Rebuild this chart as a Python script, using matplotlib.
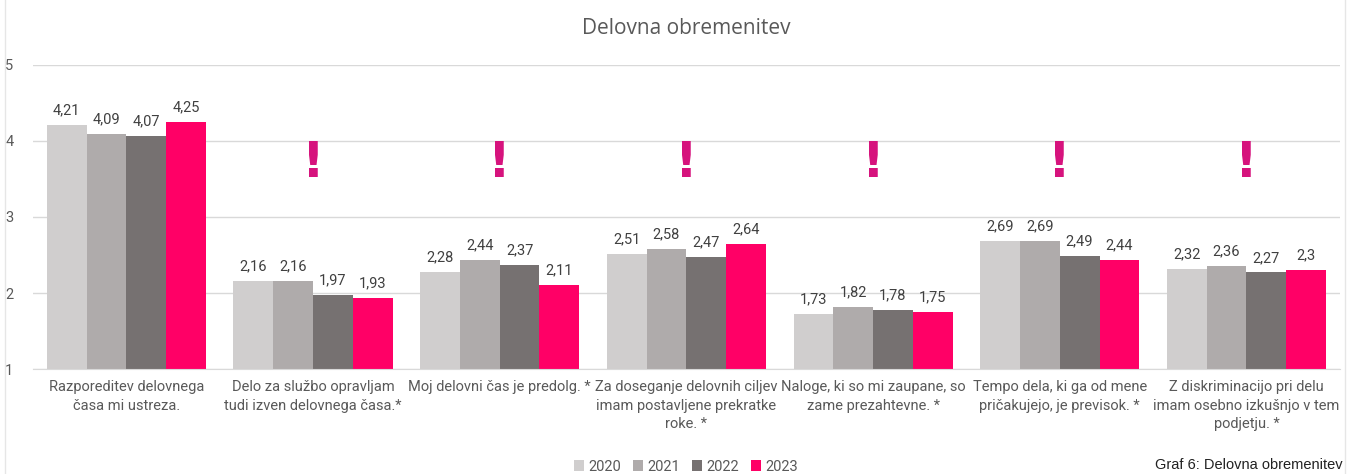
import numpy as np
import matplotlib
import matplotlib.pyplot as plt
from matplotlib.lines import Line2D
matplotlib.use('Agg')

categories = [
    "Razporeditev delovnega\nčasa mi ustreza.",
    "Delo za službo opravljam\ntudi izven delovnega časa.*",
    "Moj delovni čas je predolg. *",
    "Za doseganje delovnih ciljev\nimam postavljene prekratke\nroke. *",
    "Naloge, ki so mi zaupane, so\nzame prezahtevne. *",
    "Tempo dela, ki ga od mene\npričakujejo, je previsok. *",
    "Z diskriminacijo pri delu\nimam osebno izkušnjo v tem\npodjetju. *",
]
years = ["2020", "2021", "2022", "2023"]
v2020 = [4.21, 2.16, 2.28, 2.51, 1.73, 2.69, 2.32]
v2021 = [4.09, 2.16, 2.44, 2.58, 1.82, 2.69, 2.36]
v2022 = [4.07, 1.97, 2.37, 2.47, 1.78, 2.49, 2.27]
v2023 = [4.25, 1.93, 2.11, 2.64, 1.75, 2.44, 2.3]
flagged = [1, 2, 3, 4, 5, 6]  # categories with "!"

colors = ["#D0CECE", "#AFABAB", "#767171", "#FF0066"]
txt = "#595959"


def fmt(v):
    return ("%g" % v).replace(".", ",")


def main():
    plt.rcParams['font.family'] = ['Roboto', 'DejaVu Sans']
    fig = plt.figure(figsize=(13.57, 4.74), dpi=100)
    ax = fig.add_axes([0.0243, 0.2215, 0.963, 0.6414])

    series = [v2020, v2021, v2022, v2023]
    x = np.arange(len(categories))
    w = 0.213
    for i, vals in enumerate(series):
        pos = x + (i - 1.5) * w
        ax.bar(pos, vals, width=w, bottom=0, color=colors[i], label=years[i],
               zorder=2)
        for p, v in zip(pos, vals):
            ax.text(p, v + 0.1, fmt(v), ha="center", va="bottom",
                    fontsize=10.5, color="#404040")

    for k in flagged:
        ax.text(x[k], 3.71, "!", ha="center", va="center", fontsize=36,
                fontweight="bold", color="#D6137D", family="DejaVu Sans")

    ax.set_ylim(1, 5)
    ax.set_xlim(-0.5, len(categories) - 0.5)
    ax.set_yticks([1, 2, 3, 4, 5])
    ax.tick_params(axis="y", length=0, labelsize=10.5, labelcolor=txt, pad=14)
    ax.tick_params(axis="x", length=0, pad=8)
    ax.set_xticks(x)
    ax.set_xticklabels(categories, fontsize=10.5, color=txt, linespacing=1.4)
    ax.grid(axis="y", color="#D9D9D9", linewidth=1, zorder=0)
    for s in ["top", "right", "left"]:
        ax.spines[s].set_visible(False)
    ax.spines["bottom"].set_color("#D9D9D9")

    ax.set_title("Delovna obremenitev", fontsize=15, color=txt, pad=22,
                 family="Open Sans")

    ax.legend(loc="upper center", bbox_to_anchor=(0.5, -0.255), ncol=4,
              frameon=False, fontsize=10.5, handlelength=0.7,
              handleheight=0.7, handletextpad=0.3, columnspacing=0.8,
              labelcolor=txt)

    # chart border lines
    fig.add_artist(Line2D([0.004, 0.004], [0.0, 1.0], color="#E6E6E6", lw=1))
    fig.add_artist(Line2D([0.991, 0.991], [0.0, 1.0], color="#E6E6E6", lw=1))
    fig.text(0.851, 0.004, "Graf 6: Delovna obremenitev", fontsize=10.5,
             color="#222222", family="Liberation Sans", va="bottom")

    fig.savefig("out.png", dpi=100)


if __name__ == "__main__":
    main()
